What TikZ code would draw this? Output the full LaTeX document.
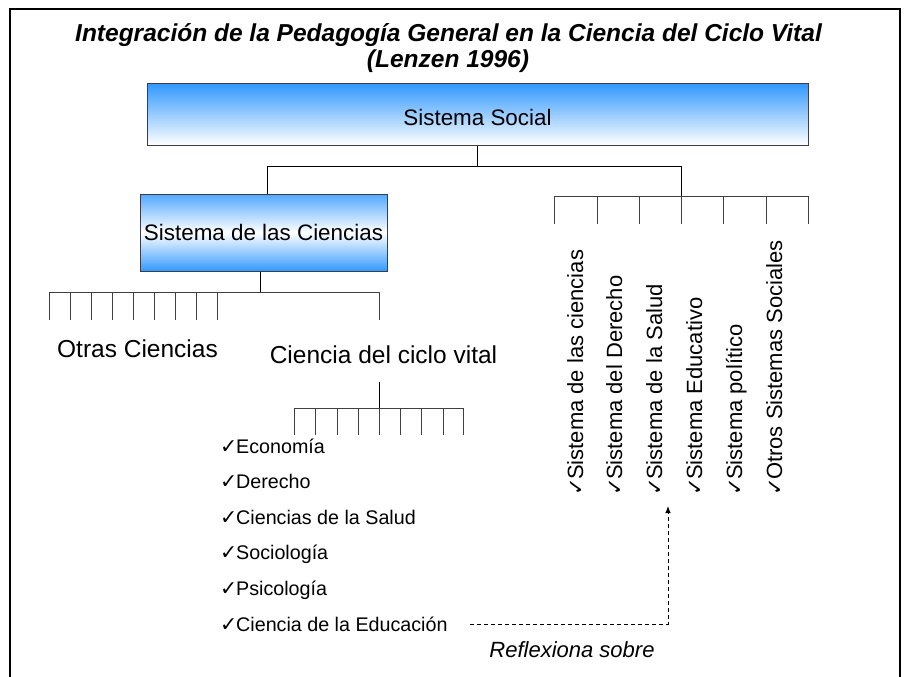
\documentclass[tikz,border=0pt]{standalone}
\usepackage{fontspec}
\setmainfont{Liberation Sans}
\newfontfamily\symfont{DejaVu Sans}
\usetikzlibrary{arrows.meta}
\definecolor{bblue}{RGB}{51,153,255}
\definecolor{boxedge}{RGB}{60,60,75}
\newcommand\fs[1]{\fontsize{#1}{#1}\selectfont}
\newcommand\ckm[1]{\makebox[16pt][l]{\symfont\fs{#1}✓}}
\begin{document}
\begin{tikzpicture}[x=1pt,y=-1pt,
  conn/.style={draw=black, line width=0.9pt},
  tick/.style={draw=black!75, line width=0.9pt},
  box/.style={draw=boxedge, line width=1pt, inner sep=0pt},
  listitem/.style={anchor=base west, inner sep=0pt, font=\fs{19.7pt}},
  vitem/.style={anchor=base west, inner sep=0pt, rotate=90, font=\fs{22pt}},
  plain/.style={anchor=base, inner sep=0pt},
  dashline/.style={draw=black, dash pattern=on 4pt off 3pt, line width=0.9pt},
]
\useasboundingbox (0,0) rectangle (906,677);
\fill[white] (0,0) rectangle (906,677);
\draw[line width=2pt] (10,677) -- (10,9) -- (900,9) -- (900,677);

% title
\node[plain, font=\fs{24.5pt}\bfseries\itshape] (t1) at (448.5,42) {Integración de la Pedagogía General en la Ciencia del Ciclo Vital};
\node[plain, font=\fs{24.5pt}\bfseries\itshape] (t2) at (448,68) {(Lenzen 1996)};

% boxes
\node[box, minimum width=661pt, minimum height=61pt, top color=bblue, bottom color=white,
      text height=21pt, text depth=0pt, font=\fs{22.4pt}] (soc) at (477.5,114.5) {Sistema Social};
\node[box, minimum width=247pt, minimum height=77pt, top color=bblue!85, bottom color=bblue, middle color=white,
      font=\fs{22.4pt}] (sci) at (263.5,232.5) {Sistema de las Ciencias};

% top connectors
\coordinate (j0) at (477.5,166);
\coordinate (jl) at (267,166);
\coordinate (jr) at (681,166);
\coordinate (rc) at (681,196);
\draw[conn] (soc.south) -- (j0);
\draw[conn] (jl) -- (jr);
\draw[conn] (jl) -- (jl |- sci.north);
\draw[conn] (jr) -- (rc);

% right comb
\coordinate (rcl) at (554,196);
\coordinate (rcr) at (808,196);
\draw[tick] (rcl) -- (rcr);
\foreach \x [count=\i] in {554,597,639,681,723,766,808} {
  \coordinate (rt\i) at (\x,196);
  \draw[tick] (rt\i) -- ++(0,28);
}

% left comb
\coordinate (lc) at (260,292);
\draw[conn] (sci.south -| lc) -- (lc);
\coordinate (lcl) at (49,292);
\coordinate (lcr) at (379,292);
\draw[tick] (lcl) -- (lcr);
\foreach \x [count=\i] in {49,70,91,112,133,154,175,196,217,379} {
  \coordinate (lt\i) at (\x,292);
  \draw[tick] (lt\i) -- ++(0,28);
}

\node[plain, font=\fs{24.5pt}] (otras) at (137.5,357) {Otras Ciencias};
\node[plain, font=\fs{24.5pt}] (cv) at (383.5,363) {Ciencia del ciclo vital};

% lower comb
\coordinate (cvj) at (379,382);
\coordinate (cvb) at (379,408);
\draw[conn] (cvj) -- (cvb);
\coordinate (bcl) at (294,408);
\coordinate (bcr) at (463,408);
\draw[tick] (bcl) -- (bcr);
\foreach \x [count=\i] in {294,315,337,358,379,400,421,443,463} {
  \coordinate (bt\i) at (\x,408);
  \draw[tick] (bt\i) -- ++(0,27);
}

% list
\node[listitem] (eco) at (220,453) {\ckm{20.5pt}Economía};
\node[listitem] (der) at (220,488.5) {\ckm{20.5pt}Derecho};
\node[listitem] (sal) at (220,524) {\ckm{20.5pt}Ciencias de la Salud};
\node[listitem] (soci) at (220,559.5) {\ckm{20.5pt}Sociología};
\node[listitem] (psi) at (220,595) {\ckm{20.5pt}Psicología};
\node[listitem] (edu) at (220,631) {\ckm{20.5pt}Ciencia de la Educación};

% rotated items
\node[vitem] (v1) at (583,496) {\ckm{21pt}Sistema de las ciencias};
\node[vitem] (v2) at (622,496) {\ckm{21pt}Sistema del Derecho};
\node[vitem] (v3) at (662,496) {\ckm{21pt}Sistema de la Salud};
\node[vitem] (v4) at (702,496) {\ckm{21pt}Sistema Educativo};
\node[vitem] (v5) at (742,496) {\ckm{21pt}Sistema político};
\node[vitem] (v6) at (782,496) {\ckm{21pt}Otros Sistemas Sociales};

% dashed arrow
\coordinate (ds) at (470,624);
\coordinate (dc) at (668,624);
\coordinate (dt) at (668,506);
\draw[dashline, -{Latex[length=7pt,width=5.5pt]}] (ds) -- (dc) -- (dt);
\node[plain, font=\fs{22pt}\itshape] (refl) at (572,657) {Reflexiona sobre};
\end{tikzpicture}
\end{document}
